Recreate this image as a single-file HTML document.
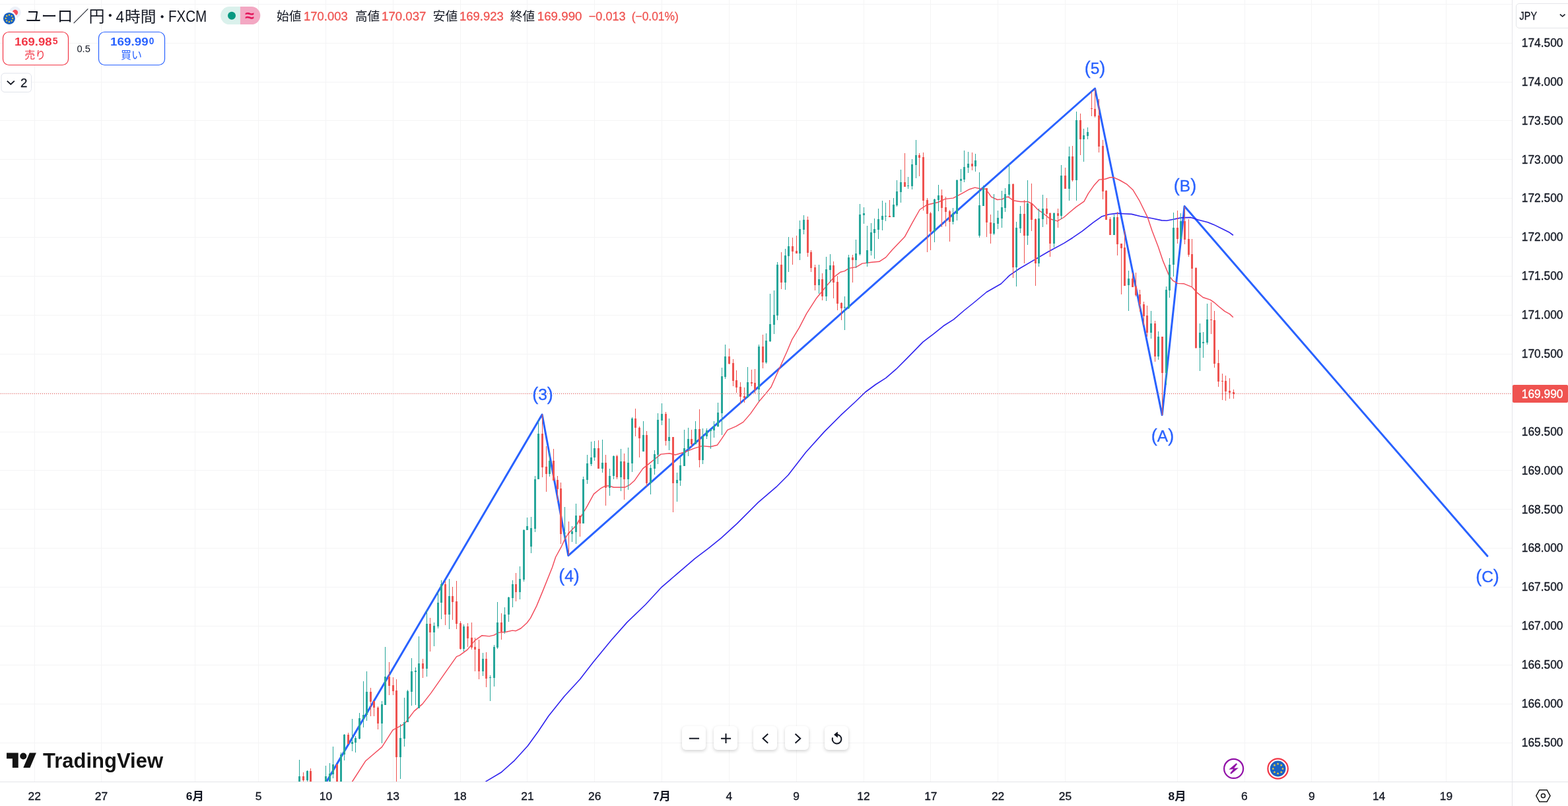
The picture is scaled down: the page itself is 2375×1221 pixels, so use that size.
<!DOCTYPE html>
<html lang="ja"><head><meta charset="utf-8"><title>EURJPY</title>
<style>
html,body{margin:0;padding:0;background:#fff}
body{width:2375px;height:1221px;overflow:hidden;position:relative;font-family:"Liberation Sans","Noto Sans CJK JP",sans-serif;color:#131722}
.a{position:absolute;white-space:nowrap;line-height:1}
.nb{top:1100px;width:36px;height:36px;border-radius:6px;background:#fff;box-shadow:0 2px 5px rgba(0,0,0,.18)}
</style></head><body>
<svg width="2375" height="1221" viewBox="0 0 2375 1221" style="position:absolute;left:0;top:0" font-family="'Liberation Sans','Noto Sans CJK JP',sans-serif"><g fill="#f4f4f5"><rect x="52" y="0" width="1" height="1184"/><rect x="153" y="0" width="1" height="1184"/><rect x="295" y="0" width="1" height="1184"/><rect x="391" y="0" width="1" height="1184"/><rect x="493" y="0" width="1" height="1184"/><rect x="595" y="0" width="1" height="1184"/><rect x="697" y="0" width="1" height="1184"/><rect x="798" y="0" width="1" height="1184"/><rect x="900" y="0" width="1" height="1184"/><rect x="1002" y="0" width="1" height="1184"/><rect x="1104" y="0" width="1" height="1184"/><rect x="1206" y="0" width="1" height="1184"/><rect x="1308" y="0" width="1" height="1184"/><rect x="1409" y="0" width="1" height="1184"/><rect x="1511" y="0" width="1" height="1184"/><rect x="1613" y="0" width="1" height="1184"/><rect x="1783" y="0" width="1" height="1184"/><rect x="1885" y="0" width="1" height="1184"/><rect x="1986" y="0" width="1" height="1184"/><rect x="2088" y="0" width="1" height="1184"/><rect x="2190" y="0" width="1" height="1184"/><rect x="0" y="6" width="2290" height="1"/><rect x="0" y="65" width="2290" height="1"/><rect x="0" y="124" width="2290" height="1"/><rect x="0" y="182" width="2290" height="1"/><rect x="0" y="241" width="2290" height="1"/><rect x="0" y="300" width="2290" height="1"/><rect x="0" y="359" width="2290" height="1"/><rect x="0" y="418" width="2290" height="1"/><rect x="0" y="477" width="2290" height="1"/><rect x="0" y="536" width="2290" height="1"/><rect x="0" y="595" width="2290" height="1"/><rect x="0" y="654" width="2290" height="1"/><rect x="0" y="712" width="2290" height="1"/><rect x="0" y="771" width="2290" height="1"/><rect x="0" y="830" width="2290" height="1"/><rect x="0" y="889" width="2290" height="1"/><rect x="0" y="948" width="2290" height="1"/><rect x="0" y="1007" width="2290" height="1"/><rect x="0" y="1066" width="2290" height="1"/><rect x="0" y="1125" width="2290" height="1"/></g>
<path d="M480.0 1209.0 L821.1 628.1 L860.8 841.6 L1658.5 134.0 L1760.2 628.6 L1794.1 312.4 L2252.9 842.3" fill="none" stroke="#2962ff" stroke-width="3.0" stroke-linejoin="round" stroke-linecap="round"/>
<path d="M735.9 1183.9 L759.6 1169.7 L779.5 1151.8 L799.3 1130.0 L815.1 1108.2 L831.0 1084.5 L854.8 1054.7 L878.5 1029.0 L898.4 1003.2 L926.1 969.5 L949.9 942.6 L977.6 916.0 L1001.4 890.2 L1025.2 869.6 L1052.9 845.9 L1072.8 830.8 L1092.6 814.9 L1116.4 793.1 L1148.1 761.4 L1175.8 737.7 L1194.0 719.5 L1220.5 685.2 L1248.5 654.1 L1273.4 629.2 L1295.2 609.0 L1310.7 594.0 L1326.3 582.5 L1341.8 572.6 L1357.4 559.2 L1373.0 543.6 L1397.9 518.1 L1413.4 506.3 L1429.0 493.8 L1444.6 483.9 L1460.1 470.5 L1475.7 458.0 L1494.3 442.5 L1516.1 430.0 L1529.2 417.1 L1543.9 407.0 L1565.9 394.1 L1587.9 381.3 L1611.7 368.4 L1624.6 360.2 L1639.3 350.1 L1655.8 337.2 L1668.6 328.1 L1679.6 324.8 L1692.5 323.1 L1701.0 323.7 L1713.9 324.4 L1726.7 327.5 L1745.0 330.8 L1759.7 333.9 L1767.1 334.3 L1776.2 332.5 L1789.1 329.9 L1803.8 329.4 L1814.8 333.0 L1829.4 336.7 L1838.6 340.4 L1851.5 346.8 L1862.5 352.3 L1867.4 356.0" fill="none" stroke="#2f22ee" stroke-width="1.6" stroke-linejoin="round" stroke-linecap="round"/>
<path d="M533.6 1184.0 L553.8 1152.7 L566.6 1141.7 L578.5 1131.6 L595.0 1105.9 L612.5 1096.7 L627.2 1077.4 L640.0 1066.4 L652.8 1049.9 L675.0 1018.1 L691.6 994.6 L696.1 992.9 L708.1 984.1 L719.1 970.4 L730.1 962.7 L741.1 963.9 L748.4 962.1 L754.9 958.4 L766.8 957.2 L776.0 955.1 L781.5 955.7 L788.8 952.0 L798.0 943.8 L803.5 936.4 L812.7 918.1 L821.8 896.1 L836.5 859.4 L841.6 844.0 L850.7 827.3 L856.2 815.4 L861.7 807.2 L872.8 796.1 L880.1 782.4 L889.3 766.8 L899.4 748.4 L909.4 740.2 L916.8 736.1 L922.3 736.0 L929.6 738.3 L946.1 738.3 L953.5 734.7 L960.8 728.3 L973.7 709.9 L982.8 702.6 L992.0 695.2 L1001.0 688.1 L1013.9 686.8 L1023.0 689.0 L1035.9 685.3 L1052.4 678.9 L1063.4 675.6 L1076.2 676.7 L1086.3 674.3 L1092.8 665.1 L1101.9 651.4 L1114.8 645.9 L1125.8 639.4 L1136.8 626.6 L1149.6 608.3 L1160.6 595.4 L1168.0 586.2 L1175.3 569.7 L1182.7 553.2 L1191.8 533.0 L1199.5 514.7 L1210.6 496.3 L1221.6 475.2 L1236.2 452.3 L1252.8 432.1 L1263.8 419.3 L1272.9 412.3 L1279.4 410.6 L1285.8 406.4 L1296.8 404.6 L1306.0 399.1 L1320.6 397.2 L1331.7 396.3 L1341.7 389.9 L1351.0 379.0 L1370.3 358.8 L1382.2 336.8 L1393.2 317.5 L1404.2 310.2 L1420.7 306.5 L1431.7 301.4 L1443.7 300.1 L1457.4 292.8 L1468.4 286.7 L1476.7 284.1 L1485.0 286.0 L1493.2 286.3 L1501.5 298.3 L1510.6 302.5 L1518.0 301.9 L1523.5 298.6 L1527.3 298.3 L1534.7 303.7 L1545.7 305.5 L1556.7 305.5 L1563.1 308.3 L1571.4 317.1 L1580.6 323.5 L1590.6 331.7 L1601.7 334.9 L1611.7 329.0 L1620.0 321.7 L1630.1 313.4 L1642.0 305.1 L1648.4 293.2 L1656.7 281.3 L1665.0 272.1 L1674.1 271.2 L1681.5 268.8 L1687.0 268.8 L1696.1 273.0 L1707.2 279.4 L1716.3 288.1 L1725.5 303.3 L1738.3 329.4 L1745.0 349.5 L1754.2 373.4 L1761.6 395.4 L1770.7 417.4 L1776.2 424.8 L1783.6 429.4 L1792.8 429.7 L1805.6 434.9 L1812.9 443.1 L1822.1 450.5 L1833.1 454.1 L1838.6 457.8 L1846.0 464.2 L1855.1 471.6 L1862.5 475.6 L1867.4 480.2" fill="none" stroke="#f24a5a" stroke-width="1.45" stroke-linejoin="round" stroke-linecap="round"/>
<g fill="#26a69a"><rect x="453" y="1151" width="1" height="49"/><rect x="452" y="1176" width="3" height="24"/><rect x="465" y="1167" width="1" height="33"/><rect x="464" y="1168" width="3" height="14"/><rect x="493" y="1160" width="1" height="40"/><rect x="492" y="1176" width="3" height="24"/><rect x="499" y="1156" width="1" height="44"/><rect x="498" y="1172" width="3" height="28"/><rect x="504" y="1131" width="1" height="48"/><rect x="503" y="1158" width="3" height="15"/><rect x="516" y="1140" width="1" height="60"/><rect x="515" y="1143" width="3" height="57"/><rect x="521" y="1112" width="1" height="40"/><rect x="520" y="1113" width="3" height="30"/><rect x="533" y="1089" width="1" height="49"/><rect x="532" y="1124" width="3" height="3"/><rect x="538" y="1115" width="1" height="25"/><rect x="537" y="1118" width="3" height="7"/><rect x="544" y="1080" width="1" height="40"/><rect x="543" y="1088" width="3" height="31"/><rect x="550" y="1032" width="1" height="70"/><rect x="549" y="1083" width="3" height="6"/><rect x="555" y="1017" width="1" height="75"/><rect x="554" y="1048" width="3" height="35"/><rect x="578" y="1062" width="1" height="64"/><rect x="577" y="1067" width="3" height="29"/><rect x="583" y="980" width="1" height="88"/><rect x="582" y="1025" width="3" height="43"/><rect x="606" y="1097" width="1" height="83"/><rect x="605" y="1118" width="3" height="29"/><rect x="612" y="1057" width="1" height="74"/><rect x="611" y="1094" width="3" height="25"/><rect x="617" y="1045" width="1" height="49"/><rect x="616" y="1047" width="3" height="47"/><rect x="623" y="997" width="1" height="72"/><rect x="622" y="1017" width="3" height="31"/><rect x="629" y="1011" width="1" height="57"/><rect x="628" y="1016" width="3" height="2"/><rect x="634" y="964" width="1" height="109"/><rect x="633" y="1005" width="3" height="68"/><rect x="646" y="924" width="1" height="101"/><rect x="645" y="945" width="3" height="68"/><rect x="657" y="943" width="1" height="36"/><rect x="656" y="948" width="3" height="10"/><rect x="663" y="896" width="1" height="56"/><rect x="662" y="913" width="3" height="36"/><rect x="668" y="879" width="1" height="59"/><rect x="667" y="885" width="3" height="28"/><rect x="680" y="877" width="1" height="76"/><rect x="679" y="903" width="3" height="28"/><rect x="702" y="946" width="1" height="41"/><rect x="701" y="949" width="3" height="34"/><rect x="731" y="989" width="1" height="35"/><rect x="730" y="998" width="3" height="19"/><rect x="742" y="1023" width="1" height="39"/><rect x="741" y="1026" width="3" height="1"/><rect x="748" y="977" width="1" height="63"/><rect x="747" y="980" width="3" height="47"/><rect x="753" y="912" width="1" height="71"/><rect x="752" y="943" width="3" height="38"/><rect x="764" y="920" width="1" height="40"/><rect x="763" y="931" width="3" height="26"/><rect x="770" y="904" width="1" height="38"/><rect x="769" y="905" width="3" height="26"/><rect x="776" y="879" width="1" height="41"/><rect x="775" y="885" width="3" height="21"/><rect x="787" y="858" width="1" height="50"/><rect x="786" y="877" width="3" height="20"/><rect x="793" y="802" width="1" height="79"/><rect x="792" y="803" width="3" height="75"/><rect x="798" y="784" width="1" height="19"/><rect x="797" y="797" width="3" height="6"/><rect x="804" y="783" width="1" height="55"/><rect x="803" y="800" width="3" height="28"/><rect x="810" y="721" width="1" height="85"/><rect x="809" y="726" width="3" height="75"/><rect x="815" y="636" width="1" height="90"/><rect x="814" y="657" width="3" height="69"/><rect x="832" y="683" width="1" height="39"/><rect x="831" y="698" width="3" height="20"/><rect x="855" y="768" width="1" height="49"/><rect x="854" y="807" width="3" height="1"/><rect x="866" y="797" width="1" height="24"/><rect x="865" y="805" width="3" height="4"/><rect x="872" y="763" width="1" height="61"/><rect x="871" y="781" width="3" height="25"/><rect x="883" y="722" width="1" height="71"/><rect x="882" y="726" width="3" height="67"/><rect x="889" y="689" width="1" height="44"/><rect x="888" y="702" width="3" height="25"/><rect x="895" y="669" width="1" height="37"/><rect x="894" y="693" width="3" height="10"/><rect x="900" y="668" width="1" height="30"/><rect x="899" y="679" width="3" height="14"/><rect x="912" y="666" width="1" height="50"/><rect x="911" y="701" width="3" height="9"/><rect x="923" y="710" width="1" height="41"/><rect x="922" y="721" width="3" height="18"/><rect x="929" y="690" width="1" height="36"/><rect x="928" y="691" width="3" height="30"/><rect x="940" y="680" width="1" height="64"/><rect x="939" y="699" width="3" height="24"/><rect x="951" y="678" width="1" height="64"/><rect x="950" y="701" width="3" height="25"/><rect x="957" y="632" width="1" height="83"/><rect x="956" y="634" width="3" height="68"/><rect x="974" y="638" width="1" height="46"/><rect x="973" y="659" width="3" height="25"/><rect x="985" y="704" width="1" height="45"/><rect x="984" y="709" width="3" height="23"/><rect x="991" y="682" width="1" height="37"/><rect x="990" y="688" width="3" height="22"/><rect x="996" y="626" width="1" height="77"/><rect x="995" y="636" width="3" height="53"/><rect x="1002" y="611" width="1" height="33"/><rect x="1001" y="627" width="3" height="10"/><rect x="1013" y="634" width="1" height="48"/><rect x="1012" y="662" width="3" height="6"/><rect x="1025" y="716" width="1" height="44"/><rect x="1024" y="727" width="3" height="5"/><rect x="1030" y="693" width="1" height="43"/><rect x="1029" y="705" width="3" height="23"/><rect x="1036" y="651" width="1" height="55"/><rect x="1035" y="679" width="3" height="27"/><rect x="1042" y="648" width="1" height="43"/><rect x="1041" y="665" width="3" height="14"/><rect x="1053" y="638" width="1" height="35"/><rect x="1052" y="650" width="3" height="23"/><rect x="1064" y="649" width="1" height="54"/><rect x="1063" y="661" width="3" height="36"/><rect x="1070" y="649" width="1" height="16"/><rect x="1069" y="652" width="3" height="9"/><rect x="1076" y="650" width="1" height="30"/><rect x="1075" y="651" width="3" height="2"/><rect x="1081" y="638" width="1" height="25"/><rect x="1080" y="645" width="3" height="7"/><rect x="1087" y="610" width="1" height="37"/><rect x="1086" y="625" width="3" height="21"/><rect x="1093" y="557" width="1" height="102"/><rect x="1092" y="570" width="3" height="56"/><rect x="1098" y="522" width="1" height="52"/><rect x="1097" y="540" width="3" height="31"/><rect x="1132" y="556" width="1" height="47"/><rect x="1131" y="579" width="3" height="23"/><rect x="1149" y="522" width="1" height="86"/><rect x="1148" y="525" width="3" height="65"/><rect x="1160" y="505" width="1" height="46"/><rect x="1159" y="516" width="3" height="33"/><rect x="1166" y="445" width="1" height="73"/><rect x="1165" y="491" width="3" height="26"/><rect x="1172" y="440" width="1" height="66"/><rect x="1171" y="477" width="3" height="15"/><rect x="1177" y="397" width="1" height="88"/><rect x="1176" y="401" width="3" height="77"/><rect x="1189" y="377" width="1" height="62"/><rect x="1188" y="387" width="3" height="41"/><rect x="1194" y="359" width="1" height="53"/><rect x="1193" y="373" width="3" height="15"/><rect x="1211" y="334" width="1" height="60"/><rect x="1210" y="347" width="3" height="37"/><rect x="1217" y="326" width="1" height="29"/><rect x="1216" y="333" width="3" height="15"/><rect x="1240" y="401" width="1" height="44"/><rect x="1239" y="423" width="3" height="9"/><rect x="1251" y="389" width="1" height="67"/><rect x="1250" y="408" width="3" height="41"/><rect x="1257" y="385" width="1" height="43"/><rect x="1256" y="402" width="3" height="7"/><rect x="1279" y="449" width="1" height="51"/><rect x="1278" y="465" width="3" height="1"/><rect x="1285" y="386" width="1" height="82"/><rect x="1284" y="390" width="3" height="77"/><rect x="1296" y="363" width="1" height="43"/><rect x="1295" y="384" width="3" height="10"/><rect x="1302" y="309" width="1" height="78"/><rect x="1301" y="325" width="3" height="60"/><rect x="1308" y="314" width="1" height="25"/><rect x="1307" y="323" width="3" height="3"/><rect x="1313" y="342" width="1" height="62"/><rect x="1312" y="379" width="3" height="20"/><rect x="1319" y="338" width="1" height="49"/><rect x="1318" y="352" width="3" height="28"/><rect x="1324" y="331" width="1" height="61"/><rect x="1323" y="347" width="3" height="6"/><rect x="1330" y="316" width="1" height="46"/><rect x="1329" y="332" width="3" height="16"/><rect x="1336" y="304" width="1" height="45"/><rect x="1335" y="327" width="3" height="6"/><rect x="1341" y="307" width="1" height="28"/><rect x="1340" y="327" width="3" height="1"/><rect x="1353" y="300" width="1" height="29"/><rect x="1352" y="310" width="3" height="19"/><rect x="1358" y="273" width="1" height="40"/><rect x="1357" y="290" width="3" height="21"/><rect x="1364" y="257" width="1" height="50"/><rect x="1363" y="276" width="3" height="15"/><rect x="1375" y="268" width="1" height="18"/><rect x="1374" y="281" width="3" height="1"/><rect x="1381" y="241" width="1" height="46"/><rect x="1380" y="249" width="3" height="33"/><rect x="1387" y="212" width="1" height="58"/><rect x="1386" y="235" width="3" height="15"/><rect x="1415" y="301" width="1" height="66"/><rect x="1414" y="302" width="3" height="49"/><rect x="1421" y="280" width="1" height="40"/><rect x="1420" y="296" width="3" height="7"/><rect x="1443" y="315" width="1" height="25"/><rect x="1442" y="323" width="3" height="13"/><rect x="1449" y="272" width="1" height="62"/><rect x="1448" y="273" width="3" height="51"/><rect x="1455" y="256" width="1" height="35"/><rect x="1454" y="271" width="3" height="3"/><rect x="1460" y="228" width="1" height="48"/><rect x="1459" y="253" width="3" height="19"/><rect x="1466" y="230" width="1" height="32"/><rect x="1465" y="248" width="3" height="6"/><rect x="1477" y="233" width="1" height="27"/><rect x="1476" y="243" width="3" height="9"/><rect x="1483" y="261" width="1" height="99"/><rect x="1482" y="311" width="3" height="46"/><rect x="1489" y="281" width="1" height="31"/><rect x="1488" y="285" width="3" height="27"/><rect x="1505" y="294" width="1" height="62"/><rect x="1504" y="338" width="3" height="16"/><rect x="1511" y="319" width="1" height="28"/><rect x="1510" y="330" width="3" height="9"/><rect x="1517" y="289" width="1" height="56"/><rect x="1516" y="314" width="3" height="17"/><rect x="1522" y="285" width="1" height="36"/><rect x="1521" y="294" width="3" height="21"/><rect x="1528" y="249" width="1" height="49"/><rect x="1527" y="279" width="3" height="16"/><rect x="1539" y="336" width="1" height="98"/><rect x="1538" y="345" width="3" height="60"/><rect x="1545" y="312" width="1" height="41"/><rect x="1544" y="324" width="3" height="22"/><rect x="1556" y="273" width="1" height="98"/><rect x="1555" y="308" width="3" height="49"/><rect x="1573" y="316" width="1" height="88"/><rect x="1572" y="331" width="3" height="68"/><rect x="1579" y="295" width="1" height="49"/><rect x="1578" y="316" width="3" height="16"/><rect x="1596" y="322" width="1" height="53"/><rect x="1595" y="323" width="3" height="46"/><rect x="1607" y="250" width="1" height="82"/><rect x="1606" y="266" width="3" height="61"/><rect x="1619" y="222" width="1" height="82"/><rect x="1618" y="237" width="3" height="49"/><rect x="1630" y="169" width="1" height="135"/><rect x="1629" y="182" width="3" height="91"/><rect x="1641" y="195" width="1" height="50"/><rect x="1640" y="205" width="3" height="6"/><rect x="1647" y="193" width="1" height="18"/><rect x="1646" y="200" width="3" height="6"/><rect x="1687" y="325" width="1" height="31"/><rect x="1686" y="329" width="3" height="27"/><rect x="1709" y="410" width="1" height="61"/><rect x="1708" y="422" width="3" height="10"/><rect x="1743" y="471" width="1" height="42"/><rect x="1742" y="490" width="3" height="14"/><rect x="1754" y="502" width="1" height="43"/><rect x="1753" y="510" width="3" height="30"/><rect x="1766" y="434" width="1" height="149"/><rect x="1765" y="439" width="3" height="126"/><rect x="1771" y="391" width="1" height="60"/><rect x="1770" y="401" width="3" height="39"/><rect x="1777" y="322" width="1" height="97"/><rect x="1776" y="345" width="3" height="56"/><rect x="1788" y="323" width="1" height="39"/><rect x="1787" y="335" width="3" height="27"/><rect x="1817" y="490" width="1" height="72"/><rect x="1816" y="504" width="3" height="23"/><rect x="1822" y="503" width="1" height="39"/><rect x="1821" y="518" width="3" height="2"/><rect x="1828" y="460" width="1" height="62"/><rect x="1827" y="484" width="3" height="35"/></g><g fill="#ef5350"><rect x="459" y="1170" width="1" height="30"/><rect x="458" y="1176" width="3" height="6"/><rect x="470" y="1164" width="1" height="36"/><rect x="469" y="1168" width="3" height="32"/><rect x="510" y="1158" width="1" height="42"/><rect x="509" y="1158" width="3" height="42"/><rect x="527" y="1110" width="1" height="17"/><rect x="526" y="1113" width="3" height="14"/><rect x="561" y="1042" width="1" height="43"/><rect x="560" y="1048" width="3" height="15"/><rect x="566" y="1062" width="1" height="23"/><rect x="565" y="1062" width="3" height="10"/><rect x="572" y="1070" width="1" height="35"/><rect x="571" y="1072" width="3" height="24"/><rect x="589" y="1003" width="1" height="50"/><rect x="588" y="1025" width="3" height="14"/><rect x="595" y="1026" width="1" height="27"/><rect x="594" y="1038" width="3" height="9"/><rect x="600" y="1029" width="1" height="171"/><rect x="599" y="1046" width="3" height="101"/><rect x="640" y="998" width="1" height="29"/><rect x="639" y="1005" width="3" height="8"/><rect x="651" y="936" width="1" height="51"/><rect x="650" y="945" width="3" height="13"/><rect x="674" y="880" width="1" height="67"/><rect x="673" y="885" width="3" height="46"/><rect x="685" y="889" width="1" height="50"/><rect x="684" y="903" width="3" height="9"/><rect x="691" y="880" width="1" height="73"/><rect x="690" y="911" width="3" height="34"/><rect x="697" y="941" width="1" height="43"/><rect x="696" y="944" width="3" height="39"/><rect x="708" y="944" width="1" height="36"/><rect x="707" y="949" width="3" height="18"/><rect x="714" y="943" width="1" height="41"/><rect x="713" y="966" width="3" height="15"/><rect x="719" y="966" width="1" height="51"/><rect x="718" y="980" width="3" height="4"/><rect x="725" y="969" width="1" height="60"/><rect x="724" y="983" width="3" height="34"/><rect x="736" y="988" width="1" height="53"/><rect x="735" y="998" width="3" height="30"/><rect x="759" y="929" width="1" height="40"/><rect x="758" y="943" width="3" height="14"/><rect x="781" y="868" width="1" height="43"/><rect x="780" y="885" width="3" height="12"/><rect x="821" y="628" width="1" height="95"/><rect x="820" y="657" width="3" height="51"/><rect x="827" y="676" width="1" height="69"/><rect x="826" y="707" width="3" height="11"/><rect x="838" y="680" width="1" height="48"/><rect x="837" y="698" width="3" height="30"/><rect x="844" y="721" width="1" height="38"/><rect x="843" y="727" width="3" height="14"/><rect x="849" y="731" width="1" height="93"/><rect x="848" y="740" width="3" height="69"/><rect x="861" y="790" width="1" height="51"/><rect x="860" y="807" width="3" height="1"/><rect x="878" y="781" width="1" height="32"/><rect x="877" y="781" width="3" height="12"/><rect x="906" y="667" width="1" height="43"/><rect x="905" y="679" width="3" height="31"/><rect x="917" y="689" width="1" height="77"/><rect x="916" y="701" width="3" height="38"/><rect x="934" y="689" width="1" height="37"/><rect x="933" y="691" width="3" height="32"/><rect x="945" y="687" width="1" height="70"/><rect x="944" y="699" width="3" height="27"/><rect x="962" y="619" width="1" height="42"/><rect x="961" y="634" width="3" height="14"/><rect x="968" y="646" width="1" height="47"/><rect x="967" y="648" width="3" height="16"/><rect x="979" y="653" width="1" height="84"/><rect x="978" y="659" width="3" height="73"/><rect x="1008" y="624" width="1" height="51"/><rect x="1007" y="627" width="3" height="41"/><rect x="1019" y="662" width="1" height="114"/><rect x="1018" y="662" width="3" height="70"/><rect x="1047" y="651" width="1" height="26"/><rect x="1046" y="665" width="3" height="8"/><rect x="1059" y="620" width="1" height="88"/><rect x="1058" y="650" width="3" height="47"/><rect x="1104" y="528" width="1" height="24"/><rect x="1103" y="540" width="3" height="11"/><rect x="1110" y="544" width="1" height="41"/><rect x="1109" y="550" width="3" height="27"/><rect x="1115" y="561" width="1" height="34"/><rect x="1114" y="576" width="3" height="11"/><rect x="1121" y="579" width="1" height="33"/><rect x="1120" y="586" width="3" height="15"/><rect x="1127" y="587" width="1" height="23"/><rect x="1126" y="600" width="3" height="3"/><rect x="1138" y="560" width="1" height="25"/><rect x="1137" y="579" width="3" height="2"/><rect x="1143" y="559" width="1" height="37"/><rect x="1142" y="580" width="3" height="10"/><rect x="1155" y="507" width="1" height="51"/><rect x="1154" y="525" width="3" height="24"/><rect x="1183" y="382" width="1" height="56"/><rect x="1182" y="401" width="3" height="27"/><rect x="1200" y="360" width="1" height="41"/><rect x="1199" y="373" width="3" height="8"/><rect x="1206" y="357" width="1" height="27"/><rect x="1205" y="380" width="3" height="4"/><rect x="1223" y="328" width="1" height="61"/><rect x="1222" y="333" width="3" height="50"/><rect x="1228" y="379" width="1" height="33"/><rect x="1227" y="382" width="3" height="24"/><rect x="1234" y="401" width="1" height="39"/><rect x="1233" y="405" width="3" height="27"/><rect x="1245" y="414" width="1" height="41"/><rect x="1244" y="423" width="3" height="26"/><rect x="1262" y="396" width="1" height="56"/><rect x="1261" y="402" width="3" height="26"/><rect x="1268" y="418" width="1" height="52"/><rect x="1267" y="427" width="3" height="33"/><rect x="1274" y="458" width="1" height="27"/><rect x="1273" y="459" width="3" height="8"/><rect x="1291" y="386" width="1" height="42"/><rect x="1290" y="390" width="3" height="4"/><rect x="1347" y="303" width="1" height="26"/><rect x="1346" y="327" width="3" height="2"/><rect x="1370" y="232" width="1" height="51"/><rect x="1369" y="276" width="3" height="7"/><rect x="1392" y="232" width="1" height="35"/><rect x="1391" y="235" width="3" height="4"/><rect x="1398" y="231" width="1" height="88"/><rect x="1397" y="238" width="3" height="66"/><rect x="1404" y="300" width="1" height="82"/><rect x="1403" y="303" width="3" height="21"/><rect x="1409" y="321" width="1" height="58"/><rect x="1408" y="323" width="3" height="28"/><rect x="1426" y="287" width="1" height="57"/><rect x="1425" y="296" width="3" height="19"/><rect x="1432" y="298" width="1" height="45"/><rect x="1431" y="314" width="3" height="7"/><rect x="1438" y="318" width="1" height="48"/><rect x="1437" y="320" width="3" height="16"/><rect x="1472" y="231" width="1" height="27"/><rect x="1471" y="248" width="3" height="4"/><rect x="1494" y="285" width="1" height="74"/><rect x="1493" y="285" width="3" height="52"/><rect x="1500" y="325" width="1" height="44"/><rect x="1499" y="337" width="3" height="17"/><rect x="1534" y="278" width="1" height="143"/><rect x="1533" y="279" width="3" height="126"/><rect x="1551" y="303" width="1" height="96"/><rect x="1550" y="324" width="3" height="33"/><rect x="1562" y="278" width="1" height="72"/><rect x="1561" y="308" width="3" height="25"/><rect x="1568" y="331" width="1" height="102"/><rect x="1567" y="332" width="3" height="67"/><rect x="1585" y="300" width="1" height="40"/><rect x="1584" y="316" width="3" height="8"/><rect x="1590" y="322" width="1" height="67"/><rect x="1589" y="323" width="3" height="46"/><rect x="1602" y="316" width="1" height="29"/><rect x="1601" y="323" width="3" height="4"/><rect x="1613" y="254" width="1" height="32"/><rect x="1612" y="266" width="3" height="20"/><rect x="1624" y="221" width="1" height="54"/><rect x="1623" y="237" width="3" height="36"/><rect x="1636" y="172" width="1" height="63"/><rect x="1635" y="182" width="3" height="29"/><rect x="1653" y="139" width="1" height="37"/><rect x="1652" y="164" width="3" height="1"/><rect x="1658" y="135" width="1" height="43"/><rect x="1657" y="165" width="3" height="11"/><rect x="1664" y="150" width="1" height="81"/><rect x="1663" y="175" width="3" height="47"/><rect x="1670" y="212" width="1" height="90"/><rect x="1669" y="221" width="3" height="69"/><rect x="1675" y="288" width="1" height="45"/><rect x="1674" y="289" width="3" height="44"/><rect x="1681" y="329" width="1" height="27"/><rect x="1680" y="332" width="3" height="24"/><rect x="1692" y="321" width="1" height="66"/><rect x="1691" y="329" width="3" height="41"/><rect x="1698" y="369" width="1" height="77"/><rect x="1697" y="369" width="3" height="7"/><rect x="1703" y="349" width="1" height="84"/><rect x="1702" y="375" width="3" height="58"/><rect x="1715" y="413" width="1" height="22"/><rect x="1714" y="422" width="3" height="13"/><rect x="1720" y="413" width="1" height="36"/><rect x="1719" y="434" width="3" height="13"/><rect x="1726" y="439" width="1" height="33"/><rect x="1725" y="446" width="3" height="15"/><rect x="1732" y="457" width="1" height="36"/><rect x="1731" y="461" width="3" height="18"/><rect x="1737" y="463" width="1" height="47"/><rect x="1736" y="478" width="3" height="26"/><rect x="1749" y="486" width="1" height="62"/><rect x="1748" y="490" width="3" height="50"/><rect x="1760" y="510" width="1" height="119"/><rect x="1759" y="510" width="3" height="55"/><rect x="1783" y="319" width="1" height="50"/><rect x="1782" y="345" width="3" height="17"/><rect x="1794" y="313" width="1" height="57"/><rect x="1793" y="335" width="3" height="28"/><rect x="1800" y="332" width="1" height="57"/><rect x="1799" y="362" width="3" height="24"/><rect x="1805" y="362" width="1" height="72"/><rect x="1804" y="385" width="3" height="22"/><rect x="1811" y="405" width="1" height="123"/><rect x="1810" y="406" width="3" height="121"/><rect x="1834" y="458" width="1" height="48"/><rect x="1833" y="484" width="3" height="1"/><rect x="1839" y="471" width="1" height="86"/><rect x="1838" y="485" width="3" height="66"/><rect x="1845" y="530" width="1" height="56"/><rect x="1844" y="550" width="3" height="28"/><rect x="1851" y="566" width="1" height="40"/><rect x="1850" y="577" width="3" height="1"/><rect x="1856" y="569" width="1" height="38"/><rect x="1855" y="577" width="3" height="16"/><rect x="1862" y="573" width="1" height="31"/><rect x="1861" y="592" width="3" height="3"/><rect x="1868" y="590" width="1" height="14"/><rect x="1867" y="594" width="3" height="3"/></g>
<line x1="1" y1="596.5" x2="2290" y2="596.5" stroke="#ef5350" stroke-width="1" stroke-dasharray="1 2" shape-rendering="crispEdges"/>
<text x="822" y="606.4" text-anchor="middle" font-size="24.5" fill="#2962ff" stroke="#2962ff" stroke-width="0.35"><tspan font-size="27">(</tspan>3<tspan font-size="27">)</tspan></text>
<text x="862" y="881.4" text-anchor="middle" font-size="24.5" fill="#2962ff" stroke="#2962ff" stroke-width="0.35"><tspan font-size="27">(</tspan>4<tspan font-size="27">)</tspan></text>
<text x="1658.5" y="111.9" text-anchor="middle" font-size="24.5" fill="#2962ff" stroke="#2962ff" stroke-width="0.35"><tspan font-size="27">(</tspan>5<tspan font-size="27">)</tspan></text>
<text x="1761" y="668.9" text-anchor="middle" font-size="24.5" fill="#2962ff" stroke="#2962ff" stroke-width="0.35"><tspan font-size="27">(</tspan>A<tspan font-size="27">)</tspan></text>
<text x="1795" y="290.4" text-anchor="middle" font-size="24.5" fill="#2962ff" stroke="#2962ff" stroke-width="0.35"><tspan font-size="27">(</tspan>B<tspan font-size="27">)</tspan></text>
<text x="2253" y="881.9" text-anchor="middle" font-size="24.5" fill="#2962ff" stroke="#2962ff" stroke-width="0.35"><tspan font-size="27">(</tspan>C<tspan font-size="27">)</tspan></text>
<rect x="0" y="1184" width="2375" height="37" fill="#fff"/>
<rect x="2290" y="0" width="85" height="1221" fill="#fff"/>
<rect x="0" y="1184" width="2375" height="1" fill="#e4e5e9"/>
<rect x="2290" y="0" width="1" height="1221" fill="#e4e5e9"/>
<text x="2304.8" y="70.9" font-size="17.8" fill="#131722" stroke="#131722" stroke-width="0.35" textLength="62.6" lengthAdjust="spacingAndGlyphs">174.500</text>
<text x="2304.8" y="129.8" font-size="17.8" fill="#131722" stroke="#131722" stroke-width="0.35" textLength="62.6" lengthAdjust="spacingAndGlyphs">174.000</text>
<text x="2304.8" y="188.7" font-size="17.8" fill="#131722" stroke="#131722" stroke-width="0.35" textLength="62.6" lengthAdjust="spacingAndGlyphs">173.500</text>
<text x="2304.8" y="247.5" font-size="17.8" fill="#131722" stroke="#131722" stroke-width="0.35" textLength="62.6" lengthAdjust="spacingAndGlyphs">173.000</text>
<text x="2304.8" y="306.4" font-size="17.8" fill="#131722" stroke="#131722" stroke-width="0.35" textLength="62.6" lengthAdjust="spacingAndGlyphs">172.500</text>
<text x="2304.8" y="365.3" font-size="17.8" fill="#131722" stroke="#131722" stroke-width="0.35" textLength="62.6" lengthAdjust="spacingAndGlyphs">172.000</text>
<text x="2304.8" y="424.2" font-size="17.8" fill="#131722" stroke="#131722" stroke-width="0.35" textLength="62.6" lengthAdjust="spacingAndGlyphs">171.500</text>
<text x="2304.8" y="483.1" font-size="17.8" fill="#131722" stroke="#131722" stroke-width="0.35" textLength="62.6" lengthAdjust="spacingAndGlyphs">171.000</text>
<text x="2304.8" y="541.9" font-size="17.8" fill="#131722" stroke="#131722" stroke-width="0.35" textLength="62.6" lengthAdjust="spacingAndGlyphs">170.500</text>
<text x="2304.8" y="600.8" font-size="17.8" fill="#131722" stroke="#131722" stroke-width="0.35" textLength="62.6" lengthAdjust="spacingAndGlyphs">170.000</text>
<text x="2304.8" y="659.7" font-size="17.8" fill="#131722" stroke="#131722" stroke-width="0.35" textLength="62.6" lengthAdjust="spacingAndGlyphs">169.500</text>
<text x="2304.8" y="718.6" font-size="17.8" fill="#131722" stroke="#131722" stroke-width="0.35" textLength="62.6" lengthAdjust="spacingAndGlyphs">169.000</text>
<text x="2304.8" y="777.5" font-size="17.8" fill="#131722" stroke="#131722" stroke-width="0.35" textLength="62.6" lengthAdjust="spacingAndGlyphs">168.500</text>
<text x="2304.8" y="836.3" font-size="17.8" fill="#131722" stroke="#131722" stroke-width="0.35" textLength="62.6" lengthAdjust="spacingAndGlyphs">168.000</text>
<text x="2304.8" y="895.2" font-size="17.8" fill="#131722" stroke="#131722" stroke-width="0.35" textLength="62.6" lengthAdjust="spacingAndGlyphs">167.500</text>
<text x="2304.8" y="954.1" font-size="17.8" fill="#131722" stroke="#131722" stroke-width="0.35" textLength="62.6" lengthAdjust="spacingAndGlyphs">167.000</text>
<text x="2304.8" y="1013.0" font-size="17.8" fill="#131722" stroke="#131722" stroke-width="0.35" textLength="62.6" lengthAdjust="spacingAndGlyphs">166.500</text>
<text x="2304.8" y="1071.9" font-size="17.8" fill="#131722" stroke="#131722" stroke-width="0.35" textLength="62.6" lengthAdjust="spacingAndGlyphs">166.000</text>
<text x="2304.8" y="1130.7" font-size="17.8" fill="#131722" stroke="#131722" stroke-width="0.35" textLength="62.6" lengthAdjust="spacingAndGlyphs">165.500</text>
<rect x="2291" y="583" width="84" height="27" rx="2" fill="#ef5350"/>
<text x="2304.8" y="603.3" font-size="17.8" fill="#fff" stroke="#fff" stroke-width="0.35" textLength="62.6" lengthAdjust="spacingAndGlyphs">169.990</text>
<text x="52.2" y="1211.6" text-anchor="middle" font-size="17.4" fill="#131722" stroke="#131722" stroke-width="0.35">22</text>
<text x="153.4" y="1211.6" text-anchor="middle" font-size="17.4" fill="#131722" stroke="#131722" stroke-width="0.35">27</text>
<text x="295.4" y="1212.3" text-anchor="middle" font-size="17.4" fill="#131722" font-weight="bold">6月</text>
<text x="391.6" y="1211.6" text-anchor="middle" font-size="17.4" fill="#131722" stroke="#131722" stroke-width="0.35">5</text>
<text x="493.4" y="1211.6" text-anchor="middle" font-size="17.4" fill="#131722" stroke="#131722" stroke-width="0.35">10</text>
<text x="595.2" y="1211.6" text-anchor="middle" font-size="17.4" fill="#131722" stroke="#131722" stroke-width="0.35">13</text>
<text x="697.0" y="1211.6" text-anchor="middle" font-size="17.4" fill="#131722" stroke="#131722" stroke-width="0.35">18</text>
<text x="798.9" y="1211.6" text-anchor="middle" font-size="17.4" fill="#131722" stroke="#131722" stroke-width="0.35">21</text>
<text x="900.7" y="1211.6" text-anchor="middle" font-size="17.4" fill="#131722" stroke="#131722" stroke-width="0.35">26</text>
<text x="1002.5" y="1212.3" text-anchor="middle" font-size="17.4" fill="#131722" font-weight="bold">7月</text>
<text x="1104.3" y="1211.6" text-anchor="middle" font-size="17.4" fill="#131722" stroke="#131722" stroke-width="0.35">4</text>
<text x="1206.1" y="1211.6" text-anchor="middle" font-size="17.4" fill="#131722" stroke="#131722" stroke-width="0.35">9</text>
<text x="1308.0" y="1211.6" text-anchor="middle" font-size="17.4" fill="#131722" stroke="#131722" stroke-width="0.35">12</text>
<text x="1409.8" y="1211.6" text-anchor="middle" font-size="17.4" fill="#131722" stroke="#131722" stroke-width="0.35">17</text>
<text x="1511.6" y="1211.6" text-anchor="middle" font-size="17.4" fill="#131722" stroke="#131722" stroke-width="0.35">22</text>
<text x="1613.4" y="1211.6" text-anchor="middle" font-size="17.4" fill="#131722" stroke="#131722" stroke-width="0.35">25</text>
<text x="1783.1" y="1212.3" text-anchor="middle" font-size="17.4" fill="#131722" font-weight="bold">8月</text>
<text x="1884.9" y="1211.6" text-anchor="middle" font-size="17.4" fill="#131722" stroke="#131722" stroke-width="0.35">6</text>
<text x="1986.8" y="1211.6" text-anchor="middle" font-size="17.4" fill="#131722" stroke="#131722" stroke-width="0.35">9</text>
<text x="2088.6" y="1211.6" text-anchor="middle" font-size="17.4" fill="#131722" stroke="#131722" stroke-width="0.35">14</text>
<text x="2190.4" y="1211.6" text-anchor="middle" font-size="17.4" fill="#131722" stroke="#131722" stroke-width="0.35">19</text></svg>
<!-- legend: symbol logos -->
<svg class="a" style="left:0;top:0" width="1100" height="150" viewBox="0 0 1100 150" font-family="'Liberation Sans','Noto Sans CJK JP',sans-serif">
  <circle cx="22.9" cy="18.7" r="8.85" fill="#edf1f9"/>
  <circle cx="23" cy="19" r="4.2" fill="#f4505e"/>
  <circle cx="13.93" cy="27.92" r="11.3" fill="#fff"/>
  <circle cx="13.93" cy="27.92" r="9" fill="#1a62c2"/>
  <g fill="#f5d034"><circle cx="13.93" cy="22.68" r="1.15"/><circle cx="17.64" cy="24.21" r="1.15"/><circle cx="19.17" cy="27.92" r="1.15"/><circle cx="17.64" cy="31.63" r="1.15"/><circle cx="13.93" cy="33.16" r="1.15"/><circle cx="10.22" cy="31.63" r="1.15"/><circle cx="8.69" cy="27.92" r="1.15"/><circle cx="10.22" cy="24.21" r="1.15"/></g>
  <!-- title -->
  <g fill="#131722">
    <text x="38.4" y="33" font-size="24" textLength="120" lengthAdjust="spacing">ユーロ／円</text>
    <text x="166.9" y="35.3" font-size="32" font-family="'Noto Sans CJK JP',sans-serif" text-anchor="middle">·</text>
    <text x="175.6" y="33.6" font-size="23.2" textLength="12.6" lengthAdjust="spacingAndGlyphs">4</text>
    <text x="189" y="33.2" font-size="22.8" textLength="47.4" lengthAdjust="spacingAndGlyphs">時間</text>
    <text x="245.7" y="37.2" font-size="32" font-family="'Noto Sans CJK JP',sans-serif" text-anchor="middle">·</text>
    <text x="254.9" y="32.8" font-size="23" textLength="58.4" lengthAdjust="spacingAndGlyphs">FXCM</text>
  </g>
  <!-- status pill -->
  <path d="M347.6 10.1H363.9V37.1H347.6A13.5 13.5 0 0 1 347.6 10.1Z" fill="#daf1ec"/>
  <path d="M363.9 10.1H380.8A13.5 13.5 0 0 1 380.8 37.1H363.9Z" fill="#f3a8c3"/>
  <circle cx="351" cy="23.8" r="6" fill="#089981"/>
  <text x="378.2" y="32.4" font-size="25" text-anchor="middle" fill="#e3175c" font-weight="bold">≈</text>
  <!-- OHLC -->
  <g font-size="18.67">
    <g fill="#131722">
      <text x="419" y="30.6">始値</text><text x="537.9" y="30.6">高値</text><text x="655.8" y="30.6">安値</text><text x="772.8" y="30.6">終値</text>
    </g>
    <g fill="#ef5350" stroke="#ef5350" stroke-width="0.3">
      <text x="460.1" y="30.5" textLength="66.6" lengthAdjust="spacingAndGlyphs">170.003</text>
      <text x="578" y="30.5" textLength="67.5" lengthAdjust="spacingAndGlyphs">170.037</text>
      <text x="696" y="30.5" textLength="66.7" lengthAdjust="spacingAndGlyphs">169.923</text>
      <text x="813.8" y="30.5" textLength="67.7" lengthAdjust="spacingAndGlyphs">169.990</text>
      <text x="891.8" y="30.5" textLength="55.9" lengthAdjust="spacingAndGlyphs">−0.013</text>
      <text x="956.7" y="30.5" textLength="71.1" lengthAdjust="spacingAndGlyphs">(−0.01%)</text>
    </g>
  </g>
  <!-- sell / buy -->
  <rect x="4.5" y="48.5" width="99" height="50" rx="9" fill="#fff" stroke="#f23645" stroke-width="1.2"/>
  <rect x="149.5" y="48.5" width="100" height="50" rx="9" fill="#fff" stroke="#2962ff" stroke-width="1.2"/>
  <g font-weight="bold" fill="#f23645">
    <text x="21.9" y="68.8" font-size="17.4" textLength="56.8" lengthAdjust="spacingAndGlyphs">169.98</text>
    <text x="79.8" y="66.8" font-size="14" textLength="7.8" lengthAdjust="spacingAndGlyphs">5</text>
  </g>
  <text x="53.2" y="89.3" font-size="16" text-anchor="middle" fill="#f23645">売り</text>
  <text x="126.6" y="79" font-size="14.67" text-anchor="middle" fill="#131722">0.5</text>
  <g font-weight="bold" fill="#2962ff">
    <text x="167.1" y="68.8" font-size="17.4" textLength="57.5" lengthAdjust="spacingAndGlyphs">169.99</text>
    <text x="225.7" y="66.8" font-size="14" textLength="7.6" lengthAdjust="spacingAndGlyphs">0</text>
  </g>
  <text x="199" y="89.3" font-size="16" text-anchor="middle" fill="#2962ff">買い</text>
  <!-- collapse -->
  <rect x="2" y="111" width="45.5" height="28.5" rx="5" fill="#fff" stroke="#e0e3eb" stroke-width="1"/>
  <path d="M10.8 122.6L16.3 127.6L21.8 122.6" fill="none" stroke="#131722" stroke-width="1.9"/>
  <text x="31" y="132.1" font-size="18.67" fill="#131722" stroke="#131722" stroke-width="0.3">2</text>
</svg>
<!-- currency box -->
<div class="a" style="left:2296px;top:5px;width:90px;height:38px;border:1px solid #e4e5e9;border-radius:5px;background:#fff;box-sizing:border-box"></div>
<svg class="a" style="left:2290px;top:0" width="85" height="50" viewBox="0 0 85 50" font-family="'Liberation Sans',sans-serif">
  <text x="11.6" y="29.6" font-size="16.8" fill="#131722" stroke="#131722" stroke-width="0.3" textLength="26.4" lengthAdjust="spacingAndGlyphs">JPY</text>
  <path d="M72.9 21.6L76.7 25L80.5 21.6" fill="none" stroke="#131722" stroke-width="1.6"/>
</svg>
<!-- nav buttons -->
<div class="a nb" style="left:1033px"></div><div class="a nb" style="left:1081px"></div><div class="a nb" style="left:1141px"></div><div class="a nb" style="left:1189px"></div><div class="a nb" style="left:1249px"></div>
<svg class="a" style="left:1020px;top:1090px" width="290" height="60" viewBox="1020 1090 290 60" fill="none" stroke="#131722" stroke-width="2">
  <path d="M1043.8 1118.7H1059"/>
  <path d="M1092 1118.7H1107.1M1099.5 1111.2V1126"/>
  <path d="M1163.2 1111.7L1155.6 1118.7L1163.2 1125.7"/>
  <path d="M1204.6 1111.7L1212.2 1118.7L1204.6 1125.7"/>
  <path d="M1261.2 1117.3A6.8 6.8 0 1 0 1267.6 1112.9"/>
  <path d="M1268.4 1109.2L1263.6 1113L1268.4 1116.8Z" fill="#131722" stroke-width="1"/>
</svg>
<!-- tradingview logo -->
<svg class="a" style="left:0;top:1130px" width="270" height="54" viewBox="0 1130 270 54" font-family="'Liberation Sans',sans-serif">
  <g transform="translate(10,1135.5) scale(1.265,1.25)" fill="#131313">
    <path d="M14 22H7V11H0V4h14v18ZM28 22h-8l7.5-18h8L28 22Z"/><circle cx="20" cy="8" r="4"/>
  </g>
  <text x="65" y="1163" font-size="30.5" font-weight="bold" fill="#131313" textLength="182" lengthAdjust="spacingAndGlyphs">TradingView</text>
</svg>
<!-- bottom right icons -->
<svg class="a" style="left:1840px;top:1140px" width="130" height="44" viewBox="1840 1140 130 44">
  <circle cx="1868.6" cy="1164.4" r="14.5" fill="#fff" stroke="#9211a8" stroke-width="2.2"/>
  <path d="M1872.36 1156.14L1874.15 1157.3L1869.21 1163.65L1875.9 1163.16L1864.85 1172.61L1863.16 1171.35L1868.15 1165.34L1861.22 1165.73Z" fill="#9211a8"/>
  <circle cx="1935.6" cy="1164.5" r="15.2" fill="#fff" stroke="#f23645" stroke-width="2.2"/>
  <circle cx="1935.6" cy="1164.5" r="11.9" fill="#1a62c2"/>
  <g fill="#f5d034"><path d="M1935.60 1155.20L1936.16 1156.43L1937.50 1156.58L1936.50 1157.49L1936.78 1158.82L1935.60 1158.15L1934.42 1158.82L1934.70 1157.49L1933.70 1156.58L1935.04 1156.43Z"/><path d="M1940.76 1157.34L1941.32 1158.57L1942.66 1158.72L1941.67 1159.63L1941.94 1160.96L1940.76 1160.29L1939.59 1160.96L1939.86 1159.63L1938.86 1158.72L1940.20 1158.57Z"/><path d="M1942.90 1162.50L1943.46 1163.73L1944.80 1163.88L1943.80 1164.79L1944.08 1166.12L1942.90 1165.45L1941.72 1166.12L1942.00 1164.79L1941.00 1163.88L1942.34 1163.73Z"/><path d="M1940.76 1167.66L1941.32 1168.89L1942.66 1169.04L1941.67 1169.96L1941.94 1171.28L1940.76 1170.61L1939.59 1171.28L1939.86 1169.96L1938.86 1169.04L1940.20 1168.89Z"/><path d="M1935.60 1169.80L1936.16 1171.03L1937.50 1171.18L1936.50 1172.09L1936.78 1173.42L1935.60 1172.75L1934.42 1173.42L1934.70 1172.09L1933.70 1171.18L1935.04 1171.03Z"/><path d="M1930.44 1167.66L1931.00 1168.89L1932.34 1169.04L1931.34 1169.96L1931.61 1171.28L1930.44 1170.61L1929.26 1171.28L1929.53 1169.96L1928.54 1169.04L1929.88 1168.89Z"/><path d="M1928.30 1162.50L1928.86 1163.73L1930.20 1163.88L1929.20 1164.79L1929.48 1166.12L1928.30 1165.45L1927.12 1166.12L1927.40 1164.79L1926.40 1163.88L1927.74 1163.73Z"/><path d="M1930.44 1157.34L1931.00 1158.57L1932.34 1158.72L1931.34 1159.63L1931.61 1160.96L1930.44 1160.29L1929.26 1160.96L1929.53 1159.63L1928.54 1158.72L1929.88 1158.57Z"/></g>
</svg>
<!-- settings icon -->
<svg class="a" style="left:2320px;top:1190px" width="34" height="30" viewBox="2320 1190 34 30" fill="none" stroke="#131313" stroke-width="1.5">
  <path d="M2326.8 1205.6L2331.7 1196.7H2343.1L2348 1205.6L2343.1 1214.6H2331.7Z" stroke-linejoin="miter"/>
  <circle cx="2337.4" cy="1205.6" r="3"/>
</svg>

</body></html>
